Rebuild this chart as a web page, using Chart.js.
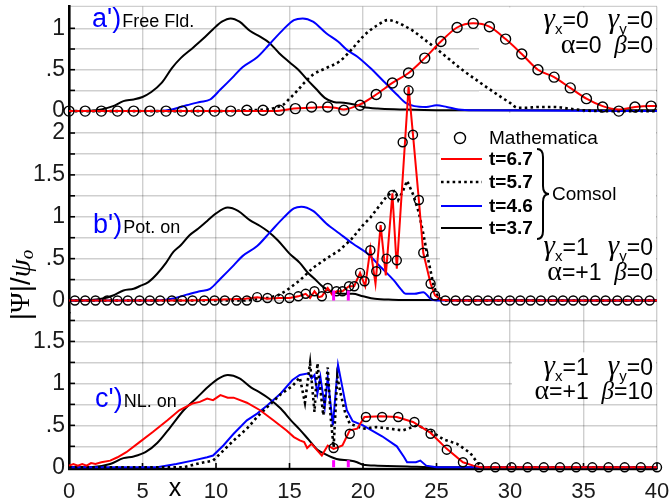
<!DOCTYPE html>
<html><head><meta charset="utf-8">
<script src="https://cdn.jsdelivr.net/npm/chart.js@4"></script>
<style>html,body{margin:0;padding:0;background:#fff}</style>
</head><body>
<canvas id="c" width="669" height="504"></canvas>
<script>
// ---------- DATA ----------
const xTicks = [0,5,10,15,20,25,30,35,40];
const markX = [18, 19];

// panel a' (Free Fld.)
const aBlack = [[0,0],[1.5,0.005],[2.2,0.02],[3,0.06],[3.7,0.12],[4.4,0.14],[5,0.17],[5.6,0.23],[6.3,0.34],[7,0.52],[7.6,0.64],[8.4,0.76],[9.1,0.87],[9.8,0.99],[10.4,1.08],[11,1.12],[11.6,1.08],[12.3,0.97],[13,0.9],[13.6,0.83],[14.3,0.7],[15,0.59],[15.6,0.5],[16.2,0.38],[16.8,0.27],[17.4,0.16],[18,0.11],[18.7,0.1],[19.4,0.08],[20,0.05],[21,0.03],[22.5,0.02],[25,0.01],[40,0.01]];
const aBlue = [[0,0],[6,0],[7,0.02],[8,0.07],[8.9,0.11],[9.6,0.14],[10.3,0.26],[11.2,0.42],[11.8,0.53],[12.8,0.65],[13.7,0.82],[14.6,0.99],[15.3,1.1],[15.9,1.12],[16.6,1.08],[17.5,0.94],[18.3,0.84],[18.9,0.74],[19.6,0.66],[20.5,0.52],[21.4,0.36],[22.3,0.2],[22.9,0.1],[23.5,0.06],[24.3,0.05],[25,0.07],[25.7,0.05],[26.5,0.02],[27.5,0.01],[40,0]];
const aDot = [[0,0],[11,0],[12,0.01],[13.5,0.02],[14,0.04],[14.6,0.08],[15,0.15],[15.5,0.24],[16,0.34],[16.6,0.44],[17.5,0.52],[18.4,0.6],[19.1,0.72],[20,0.9],[20.5,0.98],[21,1.04],[21.7,1.1],[22.2,1.08],[22.7,1.04],[23.4,0.97],[24,0.89],[24.8,0.78],[25.5,0.68],[26.6,0.52],[28,0.34],[29.3,0.18],[30,0.1],[30.5,0.04],[31,0.04],[32,0.05],[33,0.05],[34,0.03],[35,0.01],[36,0],[40,0]];
const aRed = [[0,0],[14,0],[15.3,0.03],[16.4,0.04],[17.5,0.05],[18.1,0.04],[18.7,0.02],[19.8,0.08],[20.9,0.2],[22,0.34],[23.1,0.46],[24.2,0.64],[25.3,0.84],[26.4,1.01],[27.5,1.06],[28.6,1.02],[29.7,0.87],[30.8,0.69],[31.9,0.5],[33,0.41],[34.1,0.28],[35.2,0.15],[36.3,0.06],[37.4,0.02],[38.5,0.05],[39.6,0.06],[40,0.06]];
const aCircX = [0,1.1,2.2,3.3,4.4,5.5,6.6,7.7,8.8,9.9,11,12.1,13.2,14.3,15.4,16.5,17.6,18.7,19.8,20.9,22,23.1,24.2,25.3,26.4,27.5,28.6,29.7,30.8,31.9,33,34.1,35.2,36.3,37.4,38.5,39.6];
const aCircY = [0,0,0,0,0,0,0,0,0,0,0,0.01,0.01,0.01,0.03,0.05,0.05,0.01,0.07,0.2,0.34,0.46,0.64,0.84,1.01,1.06,1.02,0.87,0.69,0.5,0.41,0.28,0.15,0.05,0,0.05,0.06];

// panel b' (Pot. on)
const bBlack = [[0,0],[1.5,0.005],[2.2,0.02],[3,0.06],[3.7,0.12],[4.4,0.14],[4.8,0.17],[5.4,0.22],[6,0.32],[6.6,0.45],[7.1,0.58],[7.6,0.66],[8.2,0.78],[8.8,0.86],[9.4,0.95],[10,1.04],[10.8,1.11],[11.5,1.07],[12.3,0.96],[13,0.89],[13.5,0.83],[14.2,0.72],[15,0.56],[15.7,0.45],[16.2,0.34],[16.7,0.26],[17.3,0.16],[18,0.1],[18.6,0.08],[19.3,0.08],[20,0.05],[20.8,0.02],[22,0.01],[25,0.005],[40,0]];
const bBlue = [[0,0],[6,0],[7,0.02],[8,0.07],[8.9,0.11],[9.6,0.14],[10.3,0.26],[11.2,0.42],[11.8,0.53],[12.8,0.65],[13.7,0.82],[14.6,0.99],[15.3,1.1],[15.8,1.12],[16.6,1.07],[17.5,0.92],[18.4,0.8],[19.3,0.68],[20.3,0.56],[21.2,0.4],[22.1,0.24],[22.6,0.13],[22.9,0.08],[23.5,0.08],[24.1,0.1],[24.6,0.02],[25,0],[40,0]];
const bDot = [[0,0],[12,0],[13.5,0.03],[14.2,0.06],[14.8,0.12],[15.7,0.24],[16.6,0.39],[17.5,0.5],[18.4,0.6],[19.2,0.73],[20,0.9],[20.5,0.99],[21.2,1.15],[21.6,1.24],[22,1.3],[22.2,1.31],[22.4,1.2],[22.7,1.3],[23,1.43],[23.4,1.27],[23.8,1.05],[24.1,0.8],[24.4,0.52],[24.8,0.18],[25.1,0.04],[25.5,0],[40,0]];
const bRed = [[0,0],[8,0],[10,0.01],[12,0.02],[12.8,0.04],[13.5,0.02],[14.3,0.03],[15,0.03],[15.6,0.05],[16.1,0.08],[16.4,0.03],[16.7,0.11],[17,0.04],[17.2,0.05],[17.6,0.15],[17.9,0.07],[18.2,0.11],[18.6,0.11],[19.05,0.17],[19.4,0.17],[19.8,0.33],[20.15,0.17],[20.5,0.62],[20.85,0.2],[21.2,0.9],[21.55,0.3],[22,1.28],[22.3,0.38],[23.1,2.55],[23.4,1.98],[23.8,1.2],[24.1,0.57],[24.6,0.2],[24.9,0.06],[25.3,0.01],[26,0],[40,0]];
const bCircX = [0.4,1.1,1.8,2.6,3.3,4.0,4.8,5.5,6.2,7.0,7.7,8.4,9.2,9.9,10.6,11.4,12.1,12.8,13.5,14.3,15.0,15.6,16.1,16.7,17.2,17.6,18.2,18.6,19.05,19.4,19.8,20.1,20.5,20.9,21.2,21.6,22.0,22.3,22.7,23.1,23.4,23.8,24.1,24.6,24.9,25.6,26.3,27.1,27.8,28.5,29.2,30.0,30.7,31.4,32.1,32.9,33.6,34.3,35.0,35.8,36.5,37.3,38.0,38.7,39.5];
const bCircY = [0,0,0,0,0,0,0,0,0,0,0,0,0,0,0,0,0,0.04,0.03,0.02,0.03,0.05,0.08,0.11,0.05,0.15,0.11,0.11,0.17,0.17,0.33,0.23,0.6,0.35,0.88,0.5,1.26,0.48,1.89,2.51,1.98,1.2,0.57,0.2,0.06,0,0,0,0,0,0,0,0,0,0,0,0,0,0,0,0,0,0,0,0];

// panel c' (NL. on)
const cBlack = [[0,0],[1.6,0.005],[2.8,0.04],[3.7,0.11],[4.4,0.13],[5.2,0.18],[6,0.29],[6.9,0.48],[7.8,0.68],[8.7,0.83],[9.6,0.98],[10.2,1.06],[10.8,1.1],[11.6,1.06],[12.4,0.95],[13,0.89],[13.6,0.82],[14.4,0.7],[15.1,0.56],[15.7,0.45],[16.3,0.33],[16.9,0.21],[17.4,0.16],[18.2,0.1],[19.1,0.08],[19.6,0.06],[20,0.03],[21,0.02],[23,0.01],[25,0],[40,0]];
const cBlue = [[0,0],[6,0],[7.3,0.04],[8.4,0.08],[9.4,0.12],[9.8,0.14],[10.5,0.26],[11.2,0.4],[12.1,0.56],[12.8,0.64],[13.5,0.74],[14.4,0.88],[15.2,1.04],[15.7,1.1],[16.3,1.12],[16.5,1.06],[16.7,1.1],[16.9,0.88],[17.1,1.08],[17.4,0.72],[17.6,1.07],[17.95,0.5],[18.3,1.22],[18.6,0.95],[18.9,0.68],[19.3,0.55],[20,0.5],[20.5,0.45],[21.3,0.37],[22.3,0.25],[22.8,0.12],[23,0.06],[23.6,0.06],[23.9,0.08],[24.3,0.02],[25,0],[40,0]];
const cDot = [[0,0],[7.8,0],[8.9,0.05],[9.8,0.08],[10.5,0.2],[11.2,0.32],[12.1,0.46],[12.8,0.6],[13.5,0.72],[14.4,0.87],[15.2,0.97],[15.7,1.07],[16.05,0.77],[16.4,1.24],[16.7,0.66],[16.9,1.24],[17.3,0.62],[17.6,1.19],[17.8,0.6],[18,0.24],[18.25,1.08],[18.5,0.86],[18.8,0.64],[19.1,0.52],[20,0.46],[20.9,0.48],[21.8,0.46],[22.7,0.44],[23.7,0.5],[24.6,0.43],[25.5,0.33],[26.4,0.28],[27.3,0.17],[27.8,0.05],[28.2,0],[40,0]];
const cRed = [[0,0.02],[0.3,0.04],[0.6,0.02],[0.9,0.04],[1.2,0.02],[1.5,0.05],[1.8,0.04],[2.2,0.06],[2.8,0.08],[3.3,0.12],[3.9,0.18],[4.8,0.3],[5.7,0.42],[6.7,0.56],[7.5,0.68],[8.4,0.76],[8.9,0.78],[9.4,0.82],[9.8,0.8],[10.3,0.86],[10.8,0.83],[11.2,0.83],[12.1,0.77],[13,0.68],[13.9,0.56],[14.8,0.44],[15.3,0.36],[15.7,0.32],[16,0.3],[16.2,0.23],[16.5,0.28],[16.9,0.2],[17.2,0.14],[17.6,0.26],[18,0.22],[18.6,0.26],[19.1,0.44],[19.6,0.46],[20.1,0.6],[21.2,0.61],[22.3,0.6],[23.4,0.54],[24.6,0.41],[25.7,0.22],[26.8,0.06],[27.5,0.02],[28,0],[40,0]];
const cCircX = [18,19.1,20.2,21.3,22.4,23.5,24.6,25.7,26.8,27.9,29,30.1,31.2,32.3,33.4,34.5,35.6,36.7,37.8,38.9,40];
const cCircY = [0.23,0.4,0.6,0.6,0.6,0.54,0.4,0.21,0.06,0,0,0,0,0,0,0,0,0,0,0,0];

// ---------- CHART ----------
const SANS = '"Liberation Sans", Arial, Helvetica, sans-serif';
const SERIF = '"Liberation Serif", "Times New Roman", serif';
Chart.defaults.font.family = SANS;
const pts = a => a.map(([x,y]) => ({x, y}));
const circ = (xs, ys) => xs.map((x,i) => ({x, y: ys[i]}));

function line(data, color, axis, extra) {
  return Object.assign({type:'line', data: pts(data), yAxisID: axis, borderColor: color,
    borderWidth: 2, pointRadius: 0, cubicInterpolationMode: 'monotone', fill: false, clip: false}, extra || {});
}
function dotted(data, axis, extra) {
  return line(data, '#000', axis, Object.assign({borderWidth: 2.6, borderDash: [2.6, 3.2]}, extra || {}));
}
function circles(xs, ys, axis, r) {
  return {type:'line', data: circ(xs, ys), yAxisID: axis, showLine: false, pointRadius: r,
    pointBorderWidth: 1.4, pointBorderColor: '#000', pointBackgroundColor: 'rgba(0,0,0,0)', clip: false};
}

const datasets = [
  circles(aCircX, aCircY, 'ya', 5),
  circles(bCircX, bCircY, 'yb', 4.5),
  circles(cCircX, cCircY, 'yc', 4.5),
  line(aRed, '#ff0000', 'ya'),
  line(bRed, '#ff0000', 'yb', {cubicInterpolationMode: 'default', tension: 0}),
  line(cRed, '#ff0000', 'yc', {cubicInterpolationMode: 'default', tension: 0}),
  dotted(aDot, 'ya'),
  dotted(bDot, 'yb', {cubicInterpolationMode: 'default', tension: 0}),
  dotted(cDot, 'yc', {cubicInterpolationMode: 'default', tension: 0}),
  line(aBlue, '#0000ff', 'ya'),
  line(bBlue, '#0000ff', 'yb'),
  line(cBlue, '#0000ff', 'yc', {cubicInterpolationMode: 'default', tension: 0}),
  line(aBlack, '#000', 'ya'),
  line(bBlack, '#000', 'yb'),
  line(cBlack, '#000', 'yc'),
];

const GRID = 'rgba(0,0,0,0.19)';
function yFmt(v) {
  if (Math.abs(v) < 1e-9) return '0';
  if (Math.abs(v - 0.5) < 1e-9) return '.5';
  if (Math.abs(v * 2 - Math.round(v * 2)) < 1e-9) return String(v);
  return '';
}
function noPad(s) { s.paddingTop = 0; s.paddingBottom = 0; s.paddingLeft = 0; s.paddingRight = 0; }
function yScale(min, max, weight, tickMax) {
  return {
    type: 'linear', position: 'left', stack: 'panels', stackWeight: weight, min, max,
    afterBuildTicks: s => { const t = []; for (let v = 0; v <= tickMax + 1e-9; v += 0.25) t.push({value: +v.toFixed(2)}); s.ticks = t; },
    afterFit: s => { s.width = 69; noPad(s); },
    grid: {color: GRID, lineWidth: 1.4, drawTicks: false},
    border: {display: true, color: '#000', width: 2.6},
    ticks: {autoSkip: false, padding: 4, color: '#1a1a1a', font: {size: 23}, callback: yFmt}
  };
}

function rich(ctx, x, y, parts, align) {
  let w = 0;
  for (const p of parts) { ctx.font = p[1]; w += ctx.measureText(p[0]).width; }
  let cx = align === 'right' ? x - w : (align === 'center' ? x - w / 2 : x);
  for (const p of parts) { ctx.font = p[1]; ctx.fillText(p[0], cx, y + (p[2] || 0)); cx += ctx.measureText(p[0]).width; }
}

const deco = {
  id: 'deco',
  beforeDatasetsDraw(chart) {
    const {ctx, chartArea: ca, scales} = chart;
    const A = scales.ya, B = scales.yb, C = scales.yc, X = scales.x;
    ctx.save();
    // white text boxes
    ctx.fillStyle = '#fff';
    ctx.fillRect(479, ca.top + 1, ca.right - 1 - 479, A.getPixelForValue(0) - 2 - ca.top);
    ctx.fillRect(440, B.top + 1, ca.right - 1 - 440, B.getPixelForValue(0.06) - B.top);
    ctx.fillRect(512, C.getPixelForValue(1.37), ca.right - 1 - 512, C.getPixelForValue(0.85) - C.getPixelForValue(1.37));
    // restore the grid lines that run over the a' box
    ctx.strokeStyle = GRID; ctx.lineWidth = 1.4;
    for (const v of [0.25, 0.5]) {
      const py = A.getPixelForValue(v);
      ctx.beginPath(); ctx.moveTo(479, py); ctx.lineTo(ca.right, py); ctx.stroke();
    }
    // top border
    ctx.beginPath(); ctx.moveTo(ca.left, ca.top); ctx.lineTo(ca.right, ca.top); ctx.stroke();
    // inward ticks
    ctx.strokeStyle = '#000'; ctx.lineWidth = 1.6;
    for (const S of [A, B, C]) for (const t of S.ticks) {
      const py = S.getPixelForValue(t.value);
      ctx.beginPath(); ctx.moveTo(ca.left, py); ctx.lineTo(ca.left + 6, py); ctx.stroke();
    }
    for (const v of xTicks) {
      const px = X.getPixelForValue(v);
      ctx.beginPath(); ctx.moveTo(px, ca.bottom); ctx.lineTo(px, ca.bottom - 6); ctx.stroke();
    }
    ctx.restore();
  },
  afterDatasetsDraw(chart) {
    const {ctx, chartArea: ca, scales} = chart;
    const B = scales.yb, C = scales.yc, X = scales.x;
    ctx.save();
    // magenta markers
    ctx.strokeStyle = '#ff00ff'; ctx.lineWidth = 3;
    for (const m of markX) {
      const px = X.getPixelForValue(m);
      ctx.beginPath(); ctx.moveTo(px, B.getPixelForValue(0)); ctx.lineTo(px, B.getPixelForValue(0.12)); ctx.stroke();
      ctx.beginPath(); ctx.moveTo(px, C.getPixelForValue(0)); ctx.lineTo(px, C.getPixelForValue(0.085)); ctx.stroke();
    }
    ctx.fillStyle = '#000'; ctx.textBaseline = 'alphabetic'; ctx.textAlign = 'left';
    // panel labels
    const lbl = [["a')", 'Free Fld.', 27, 92], ["b')", 'Pot. on', 233, 93], ["c')", 'NL. on', 407, 95]];
    for (const [p, t, y, x] of lbl) {
      ctx.font = '27px ' + SANS; ctx.fillStyle = '#0000ff'; ctx.fillText(p, x, y);
      const w = ctx.measureText(p).width;
      ctx.font = '18px ' + SANS; ctx.fillStyle = '#000'; ctx.fillText(t, x + w + 1, y);
    }
    // parameter texts
    const G = 'italic 29px ' + SERIF, N = '23px ' + SANS, S = '15px ' + SANS, GA = '28px ' + SERIF, GB = 'italic 25px ' + SERIF;
    const params = [
      [28, 53, '=0', '=0', '=0', '=0'],
      [255, 280, '=1', '=0', '=+1', '=0'],
      [375, 399, '=1', '=0', '=+1', '=10']
    ];
    for (const [y1, y2, gx, gy, al, be] of params) {
      rich(ctx, 653, y1, [['\u03b3', G], ['x', S, 6], [gx, N], ['   ', N], ['\u03b3', G], ['y', S, 6], [gy, N]], 'right');
      rich(ctx, 653, y2, [['\u03b1', GA], [al, N], ['  ', N], ['\u03b2', GB], [be, N]], 'right');
    }
    // legend
    ctx.textBaseline = 'middle';
    ctx.strokeStyle = '#000'; ctx.lineWidth = 1.4;
    ctx.beginPath(); ctx.arc(460, 138, 5.5, 0, Math.PI * 2); ctx.stroke();
    ctx.font = '19px ' + SANS; ctx.fillText('Mathematica', 489, 139);
    const leg = [['t=6.7', '#ff0000', null, 159], ['t=5.7', '#000', [2.6, 3.2], 182], ['t=4.6', '#0000ff', null, 206], ['t=3.7', '#000', null, 228]];
    for (const [t, col, dash, y] of leg) {
      ctx.save(); ctx.strokeStyle = col; ctx.lineWidth = dash ? 2.6 : 2; if (dash) ctx.setLineDash(dash);
      ctx.beginPath(); ctx.moveTo(441, y); ctx.lineTo(482, y); ctx.stroke(); ctx.restore();
      ctx.font = 'bold 19px ' + SANS; ctx.fillStyle = '#000'; ctx.fillText(t, 489, y + 1);
    }
    ctx.lineWidth = 2; ctx.strokeStyle = '#000';
    ctx.beginPath();
    ctx.moveTo(537, 149);
    ctx.quadraticCurveTo(543, 149, 543, 157);
    ctx.lineTo(543, 186);
    ctx.quadraticCurveTo(543, 194, 549, 194);
    ctx.quadraticCurveTo(543, 194, 543, 202);
    ctx.lineTo(543, 231);
    ctx.quadraticCurveTo(543, 239, 537, 239);
    ctx.stroke();
    ctx.font = '19px ' + SANS; ctx.fillText('Comsol', 552, 195);
    // x label
    ctx.textAlign = 'center';
    ctx.font = '25px ' + SANS; ctx.fillText('x', 175, 489);
    // y title
    ctx.translate(22, 285); ctx.rotate(-Math.PI / 2);
    ctx.textAlign = 'left';
    rich(ctx, 0, 0, [['|', '28px ' + SANS], ['\u03a8', '28px ' + SERIF], ['|', '28px ' + SANS], ['/', '28px ' + SANS], ['\u03c8', 'italic 29px ' + SERIF], ['o', 'italic 19px ' + SERIF, 6]], 'center');
    ctx.restore();
  }
};

new Chart(document.getElementById('c'), {
  data: {datasets},
  options: {
    responsive: false, animation: false, devicePixelRatio: 1, events: [],
    layout: {padding: {left: 0, right: 12, top: 5, bottom: 0}},
    plugins: {legend: {display: false}, tooltip: {enabled: false}},
    scales: {
      x: {
        type: 'linear', min: 0, max: 40,
        afterBuildTicks: s => { s.ticks = xTicks.map(v => ({value: v})); },
        afterFit: s => { s.height = 35; noPad(s); },
        grid: {color: GRID, lineWidth: 1.4, drawTicks: false},
        border: {display: true, color: '#000', width: 2.2},
        ticks: {autoSkip: false, maxRotation: 0, padding: 10, color: '#1a1a1a', font: {size: 22}}
      },
      yc: yScale(-0.02, 1.838, 156.4, 1.75),
      yb: yScale(-0.15, 2.25, 201.6, 2.0),
      ya: yScale(-0.012, 1.265, 106, 1.0)
    }
  },
  plugins: [deco]
});
</script>
</body></html>
